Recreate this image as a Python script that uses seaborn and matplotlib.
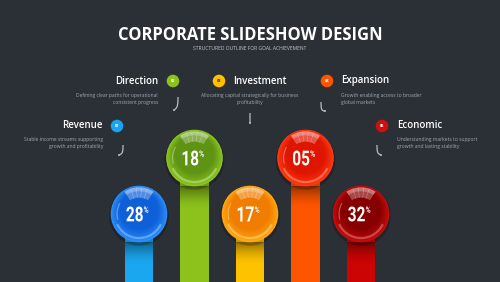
import numpy as np
import pandas as pd
import matplotlib
matplotlib.use("Agg")
import matplotlib.pyplot as plt
import seaborn as sns
from matplotlib.patches import Circle, Wedge, Arc, Rectangle, PathPatch
from matplotlib.path import Path
from matplotlib.colors import to_rgb
from matplotlib.textpath import TextPath
from matplotlib.font_manager import FontProperties
from matplotlib.transforms import Affine2D

# ---------------- data ----------------
title = "CORPORATE SLIDESHOW DESIGN"
subtitle = "STRUCTURED OUTLINE FOR GOAL ACHIEVEMENT"
categories = ["Revenue", "Direction", "Investment", "Expansion", "Economic"]
codes = ["01", "02", "03", "04", "05"]
percents = [28, 18, 17, 5, 32]
bar_heights = [68, 124, 68, 124, 68]
descriptions = [
    "Stable income streams supporting\ngrowth and profitability",
    "Defining clear paths for operational\nconsistent progress",
    "Allocating capital strategically for business\nprofitability",
    "Growth enabling access to broader\nglobal markets",
    "Understanding markets to support\ngrowth and lasting stability",
]

# ---------------- styles ----------------
BG = "#2b2f36"
bar_colors = ["#1aa7f0", "#8dc21c", "#ffc200", "#ff5500", "#cc0404"]
rim_colors = ["#2d8ffb", "#8cc823", "#ffab12", "#ff3b14", "#c80d0d"]
core_colors = ["#0f60d8", "#5f9314", "#f07c00", "#de1600", "#860000"]
icon_colors = ["#1aa3f0", "#8dc21c", "#ffc000", "#ff5500", "#cc1010"]
icon_text = ["white", "white", "#3a3000", "white", "white"]

sns.set_theme(style="white")
plt.rcParams["font.family"] = ["Open Sans", "DejaVu Sans"]

W, H = 500, 282
fig = plt.figure(figsize=(W / 100, H / 100), dpi=100)
fig.patch.set_facecolor(BG)

ax_bg = fig.add_axes([0, 0, 1, 1])
ax_bg.set_xlim(0, W); ax_bg.set_ylim(0, H); ax_bg.axis("off")
ax_bg.set_facecolor(BG)

# bars axis: category spacing 55.5 px, first category centred at x=139
step = 55.5
left_px = 139 - step / 2
ax_bars = fig.add_axes([left_px / W, 0, 5 * step / W, 1])
df = pd.DataFrame({"category": categories, "height": bar_heights})
sns.barplot(data=df, x="category", y="height", hue="category",
            palette=bar_colors, saturation=1, width=0.505, legend=False,
            ax=ax_bars, linewidth=0)
ax_bars.set_xlim(-0.5, 4.5); ax_bars.set_ylim(0, H)
ax_bars.axis("off"); ax_bars.patch.set_alpha(0)

ax = fig.add_axes([0, 0, 1, 1])
ax.set_xlim(0, W); ax.set_ylim(0, H); ax.axis("off"); ax.patch.set_alpha(0)

inv = ax.transData.inverted()


def to_px(x, y):
    return inv.transform(ax_bars.transData.transform((x, y)))


def mix(c1, c2, t):
    a, b = np.array(to_rgb(c1)), np.array(to_rgb(c2))
    return tuple(a * (1 - t) + b * t)


FP = FontProperties(family="Roboto", weight="bold")


def narrow_text(s, x_anchor, y_anchor, height, xscale, anchor="right-center"):
    tp = TextPath((0, 0), s, size=10, prop=FP)
    bb = tp.get_extents()
    sy = height / bb.height
    sx = sy * xscale
    if anchor == "right-center":
        tr = Affine2D().translate(-bb.x1, -(bb.y0 + bb.y1) / 2)
    else:  # left-top
        tr = Affine2D().translate(-bb.x0, -bb.y1)
    tr = tr.scale(sx, sy).translate(x_anchor, y_anchor)
    ax.add_patch(PathPatch(tr.transform_path(tp), facecolor="white", lw=0, zorder=7))


R = 28.3
for i, (p, h) in enumerate(zip(ax_bars.patches, bar_heights)):
    cx, cy = to_px(i, h)
    # shadow on the bar under the sphere
    x0, _ = to_px(p.get_x(), 0)
    x1, _ = to_px(p.get_x() + p.get_width(), 0)
    n = 22
    for k in range(n):
        a = 0.42 * (1 - k / n) ** 1.6
        ax.add_patch(Rectangle((x0, cy - R - k - 1), x1 - x0, 1.05,
                               color="black", alpha=a, lw=0, zorder=2))
    # soft outer shadow
    ax.add_patch(Circle((cx, cy - 2), R + 1.5, color="black", alpha=0.22, lw=0, zorder=3))
    # radial gradient
    m = 16
    for k in range(m):
        t = k / (m - 1)
        r = R * (1 - 0.32 * t)
        ax.add_patch(Circle((cx, cy + 0.14 * R * t), r,
                            color=mix(rim_colors[i], core_colors[i], t ** 0.8),
                            lw=0, zorder=4))
    # bottom light reflection
    ax.add_patch(Arc((cx, cy), 1.7 * R, 1.7 * R, theta1=205, theta2=335,
                     color=mix(rim_colors[i], "white", 0.35), lw=1.6, alpha=0.7, zorder=5))
    ax.add_patch(Arc((cx, cy), 1.55 * R, 1.55 * R, theta1=150, theta2=195,
                     color="white", lw=0.8, alpha=0.35, zorder=5))
    # top glossy highlight
    ax.add_patch(Wedge((cx, cy), 0.94 * R, 57, 123, width=0.36 * R,
                       facecolor="white", alpha=0.28, lw=0, zorder=5))
    ax.add_patch(Wedge((cx, cy), 0.94 * R, 57, 123, width=0.14 * R,
                       facecolor="white", alpha=0.25, lw=0, zorder=5))
    for ang in (72, 84, 96, 108):
        th = np.deg2rad(ang)
        ax.plot([cx + 0.58 * R * np.cos(th), cx + 0.94 * R * np.cos(th)],
                [cy + 0.58 * R * np.sin(th), cy + 0.94 * R * np.sin(th)],
                color="white", lw=0.4, alpha=0.35, zorder=6)
    # percentage label (tall condensed digits)
    narrow_text(f"{percents[i]:02d}", cx + 3.8, cy, 15, 0.75, "right-center")
    narrow_text("%", cx + 4.9, cy + 7.5, 6.3, 0.8, "left-top")

# ---------------- texts ----------------
ax.text(250, 247.5, title, ha="center", va="center", color="white",
        fontsize=11.9, weight="bold")
ax.text(250, 233, subtitle, ha="center", va="center", color="#c4c7cc", fontsize=3.6)

# layout per category: (icon x, icon y, title x, title ha, desc x, desc ha, title y, desc y)
layout = [
    (117, 156, 103, "right", 103, "right", 157, 145.5),
    (173, 201, 158, "right", 158, "right", 201, 189.5),
    (219, 201, 233, "left", 250, "center", 201, 189.5),
    (327, 201, 341, "left", 341, "left", 201, 189.5),
    (382, 156, 397, "left", 397, "left", 157, 145.5),
]
for i, (ix, iy, tx, tha, dx, dha, ty, dy) in enumerate(layout):
    ax.add_patch(Circle((ix, iy), 6.3, color=icon_colors[i], lw=0, zorder=3))
    ax.text(ix, iy, codes[i], ha="center", va="center", fontsize=2.8,
            weight="bold", color=icon_text[i], zorder=4)
    ax.text(tx, ty, categories[i], ha=tha, va="center", color="white",
            fontsize=7.0, weight="semibold")
    ax.text(dx, dy, descriptions[i], ha=dha, va="top", multialignment=dha,
            color="#a2a6ad", fontsize=3.6, linespacing=1.55)

# small connector hooks
hooks = [
    [(123, 137), (123, 131), (123, 128), (119, 127)],
    [(178, 185), (178, 179), (178, 174), (174, 172)],
    [(250, 169), (250, 164), (250, 162), (250, 159)],
    [(321, 180), (321, 174), (321, 171), (325, 171)],
    [(377, 137), (377, 131), (377, 128), (381, 127)],
]
for pts in hooks:
    path = Path(pts, [Path.MOVETO, Path.CURVE4, Path.CURVE4, Path.CURVE4])
    ax.add_patch(PathPatch(path, facecolor="none", edgecolor="#b9bdc3", lw=0.9, zorder=3))
    ax.add_patch(Circle(pts[-1], 1.0, color="#b9bdc3", lw=0, zorder=3))

fig.savefig("out.png", dpi=100, facecolor=BG)
